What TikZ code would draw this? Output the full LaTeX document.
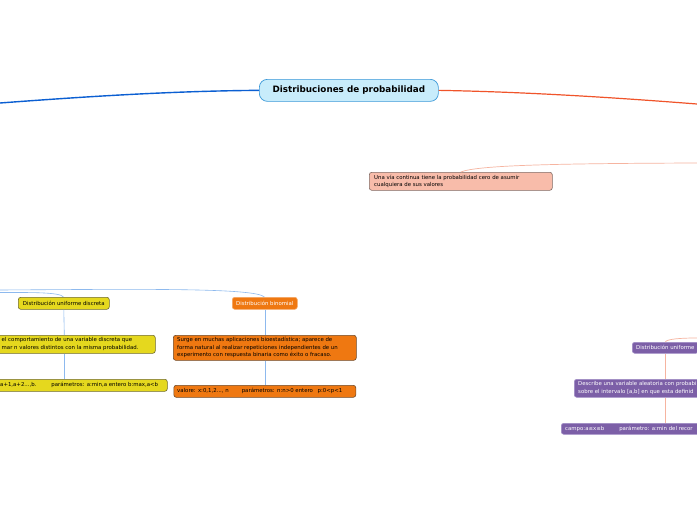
\documentclass[tikz,border=0pt]{standalone}
\usepackage{fontspec}
\setmainfont{DejaVu Sans}
\definecolor{titfill}{HTML}{C8ECFB}
\definecolor{titdraw}{HTML}{3A98D8}
\definecolor{bmain}{HTML}{0B5FD2}
\definecolor{rmain}{HTML}{F0542A}
\definecolor{salm}{HTML}{F6B4A0}
\definecolor{lblu}{HTML}{8DB9EE}
\definecolor{pinkf}{HTML}{F8BCAA}
\definecolor{pinkd}{HTML}{806A64}
\definecolor{yelf}{HTML}{E5D81E}
\definecolor{yeld}{HTML}{6F6A2C}
\definecolor{oraf}{HTML}{EF7811}
\definecolor{orad}{HTML}{6E4A2A}
\definecolor{oral}{HTML}{F5A866}
\definecolor{purf}{HTML}{7C5FA7}
\definecolor{purd}{HTML}{A18DC6}
\begin{document}
\begin{tikzpicture}[x=1pt,y=-1pt,
  box/.style={rounded corners=2.5pt, line width=0.6pt, inner sep=0pt, anchor=north west,
    font=\fontsize{5.4}{7.2}\selectfont, align=left},
  yelbox/.style={box, fill=yelf, draw=yeld},
  orabox/.style={box, fill=oraf, draw=orad},
  purbox/.style={box, fill=purf, draw=purd, text=white},
  txt/.style={inner sep=0pt, anchor=west, font=\fontsize{5.4}{7.2}\selectfont, align=left},
  bline/.style={draw=lblu, line width=0.6pt},
  sline/.style={draw=salm, line width=0.7pt}]
\clip (0,0) rectangle (697,520);
\fill[white] (0,0) rectangle (697,520);

% central topic
\node[draw=titdraw, fill=titfill, line width=0.7pt, rounded corners=8pt, minimum width=179pt,
  minimum height=22pt, inner sep=0pt, anchor=north west,
  font=\fontsize{8.8}{10}\selectfont\bfseries] (title) at (259,79) {Distribuciones de probabilidad};

\coordinate (lb) at (0,103);
\coordinate (rb) at (697,104);
\draw[bmain, line width=1.4pt] (title.west) .. controls (170,91) and (80,97) .. (lb);
\draw[rmain, line width=1.2pt] (title.east) .. controls (530,92) and (620,98) .. (rb);

% pink node
\node[box, fill=pinkf, draw=pinkd, minimum width=183pt, minimum height=18pt] (pink) at (369,172) {};
\node[txt] (pinkt) at (374,181) {Una vía continua tiene la probabilidad cero de asumir\\cualquiera de sus valores};
\coordinate (pe) at (697,163);
\draw[sline] (pink.north) .. controls (478,165) and (560,163.5) .. (pe);

% left branch connectors
\coordinate (la) at (0,290);
\coordinate (lc) at (0,292.5);
\draw[bline] (la) .. controls (150,289) and (255,288) .. (264.5,297);
\draw[bline] (lc) .. controls (30,292.5) and (60,292) .. (63.5,297);

% uniform discrete
\node[yelbox, minimum width=91pt, minimum height=12pt, align=center] (ud) at (18,297) {Distribución uniforme discreta};
\node[yelbox, minimum width=182pt, minimum height=18pt] (yd) at (-27,335) {};
\node[txt] (ydt) at (1.5,344) {el comportamiento de una variable discreta que\\mar n valores distintos con la misma probabilidad.};
\node[yelbox, minimum width=206pt, minimum height=12pt] (yv) at (-39,379) {};
\node[txt] (yvt) at (0,385) {a+1,a+2...,b.\hspace{15pt}parámetros: a:min,a entero b:max,a<b};
\draw[bline] (ud.south) -- (yd.north);
\draw[bline] (yd.south) -- (yv.north);

% binomial
\node[box, fill=oraf, draw=oral, text=white, minimum width=65pt, minimum height=12pt, align=center] (bin) at (232,297) {Distribución binomial};
\node[orabox, minimum width=183pt, minimum height=25pt] (bd) at (173,335) {};
\node[txt] (bdt) at (177,347.5) {Surge en muchas aplicaciones bioestadística; aparece de\\forma natural al realizar repeticiones independientes de un\\experimento con respuesta binaria como éxito o fracaso.};
\node[orabox, minimum width=182pt, minimum height=12pt] (bv) at (173.5,385) {};
\node[txt] (bvt) at (177,391) {valore: x:0,1,2..., n\hspace{13pt}parámetros: n:n>0 entero\hspace{3pt} p:0<p<1};
\draw[bline] (bin.south) -- (bd.north);
\draw[bline] (bd.south) -- (bv.north);

% uniform continuous
\node[purbox, minimum width=66pt, minimum height=11pt] (pu) at (632,342) {};
\node[txt, text=white] (put) at (636,347.5) {Distribución uniforme};
\node[purbox, minimum width=182pt, minimum height=18pt] (pd) at (574,379) {};
\node[txt, text=white] (pdt) at (578,388) {Describe una variable aleatoria con probabi\\sobre el intervalo [a,b] en que esta definid};
\node[purbox, minimum width=208pt, minimum height=11pt] (pv) at (561,423) {};
\node[txt, text=white] (pvt) at (565,428.5) {campo:a≤x≤b\hspace{15pt}parámetro: a:min del recor};
\coordinate (pr) at (697,338);
\draw[sline] (pu.north) .. controls (667,339) and (680,338) .. (pr);
\draw[sline] (pu.south) -- (pd.north);
\draw[sline] (pd.south) -- (pv.north);
\end{tikzpicture}
\end{document}
